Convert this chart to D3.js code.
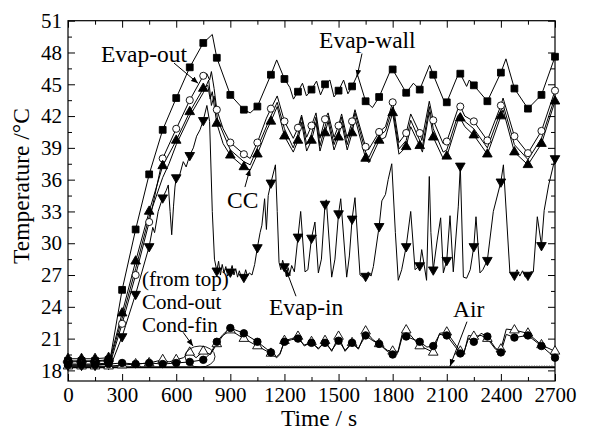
<!DOCTYPE html>
<html lang="en">
<head>
<meta charset="UTF-8">
<title>Temperature vs time</title>
<script src="https://d3js.org/d3.v7.min.js"></script>
<style>
  body { margin: 0; background: #fff; }
  svg text { font-family: "Liberation Serif", "Times New Roman", serif; fill: #000; }
</style>
</head>
<body>
<svg id="chart"></svg>
<script>
// [time s, temperature C]; points at multiples of 75 s carry a marker
const evapWall = [[0,18.9],[75,18.9],[150,18.9],[225,19.0],[235,19.2],[300,25.6],[375,31.3],[450,36.5],[525,40.7],[600,43.7],[675,46.6],[750,48.9],[800,49.7],[825,47.5],[900,44.0],[975,42.6],[1010,42.3],[1050,42.9],[1125,45.9],[1157,47.3],[1200,45.5],[1230,44.7],[1250,43.6],[1275,44.3],[1300,45.1],[1322,43.9],[1350,44.5],[1378,45.3],[1400,44.0],[1425,45.0],[1452,45.4],[1475,43.8],[1500,44.4],[1528,45.4],[1552,44.1],[1575,44.8],[1605,45.9],[1650,43.4],[1688,42.8],[1725,43.8],[1795,46.6],[1800,46.4],[1875,44.2],[1915,45.1],[1950,44.5],[2005,46.8],[2025,45.9],[2090,43.2],[2100,43.3],[2160,45.8],[2175,46.0],[2210,44.8],[2225,45.4],[2250,44.9],[2325,43.4],[2400,46.1],[2428,47.4],[2475,44.6],[2550,42.7],[2625,44.0],[2700,47.6]];

const evapOut = [[0,18.6],[75,18.6],[150,18.6],[225,18.7],[240,19.0],[300,22.4],[375,27.0],[450,32.0],[525,38.0],[600,40.8],[675,43.5],[750,45.8],[770,46.0],[785,45.4],[795,46.2],[810,44.6],[825,42.6],[860,40.8],[900,39.5],[975,38.4],[1010,38.0],[1050,39.5],[1100,41.8],[1125,42.7],[1160,43.9],[1200,41.5],[1249,39.9],[1275,40.9],[1295,42.1],[1323,40.0],[1350,41.1],[1375,42.3],[1397,39.9],[1425,41.7],[1442,42.3],[1475,40.0],[1500,41.1],[1517,42.2],[1548,39.9],[1575,41.5],[1591,42.6],[1650,39.1],[1665,38.8],[1725,40.5],[1760,41.0],[1800,43.3],[1835,39.5],[1875,40.4],[1900,42.2],[1950,40.4],[1962,39.7],[2003,43.4],[2025,41.6],[2080,39.4],[2100,39.6],[2160,42.6],[2175,42.9],[2200,42.0],[2250,41.5],[2325,39.7],[2400,43.0],[2412,43.7],[2475,40.1],[2550,38.5],[2625,40.6],[2700,44.4]];

const ccMid = [[0,18.8],[225,18.9],[240,19.3],[300,22.9],[375,27.6],[450,32.5],[525,36.2],[560,37.5],[600,39.3],[675,42.0],[750,44.2],[780,45.4],[795,43.0],[810,43.9],[830,41.6],[900,38.8],[975,37.7],[1010,37.4],[1050,39.0],[1125,42.0],[1160,43.3],[1200,40.8],[1249,39.0],[1275,40.3],[1295,41.9],[1323,39.3],[1350,40.3],[1375,41.9],[1397,39.2],[1425,41.0],[1442,42.0],[1475,39.3],[1500,40.5],[1517,41.9],[1548,39.3],[1575,41.0],[1591,42.3],[1650,38.6],[1668,38.1],[1725,40.1],[1760,40.6],[1800,42.8],[1835,38.9],[1875,39.7],[1900,41.6],[1950,39.7],[1965,39.1],[2003,42.9],[2025,40.8],[2080,38.6],[2100,38.8],[2160,42.0],[2175,42.3],[2200,41.5],[2250,40.8],[2325,39.0],[2400,42.5],[2412,43.1],[2475,39.3],[2550,37.9],[2625,39.9],[2700,43.8]];

const cc = [[0,19.1],[75,19.1],[150,19.1],[225,19.2],[240,19.5],[300,23.4],[375,28.3],[450,33.0],[525,37.3],[600,39.7],[675,42.4],[750,44.6],[775,44.9],[788,43.6],[800,44.3],[812,42.8],[825,41.3],[860,39.4],[900,38.3],[975,37.2],[1010,36.9],[1050,38.4],[1100,40.6],[1125,41.5],[1160,42.9],[1200,40.1],[1249,38.6],[1275,39.7],[1295,41.4],[1323,38.7],[1350,39.7],[1375,41.4],[1397,38.7],[1425,40.4],[1442,41.5],[1475,38.8],[1500,40.0],[1517,41.4],[1548,38.8],[1575,40.4],[1591,41.8],[1650,38.0],[1668,37.6],[1725,39.7],[1760,40.0],[1800,42.3],[1835,38.4],[1875,39.1],[1900,41.0],[1950,39.2],[1965,38.6],[2003,42.4],[2025,40.0],[2080,38.0],[2100,38.2],[2160,41.5],[2175,41.8],[2200,41.0],[2250,40.2],[2325,38.4],[2400,42.0],[2412,42.6],[2475,38.6],[2550,37.4],[2625,39.4],[2700,43.4]];

const evapIn = [[0,18.5],[75,18.5],[150,18.5],[225,18.6],[245,18.8],[300,21.2],[375,25.2],[450,29.7],[470,31.5],[480,31.0],[500,33.0],[525,34.3],[545,35.0],[556,35.5],[566,33.0],[575,30.8],[585,33.5],[593,35.3],[600,36.2],[620,36.5],[639,37.7],[655,37.2],[675,38.3],[695,39.0],[713,40.1],[732,40.7],[750,41.6],[770,43.0],[785,41.5],[800,33.0],[812,28.5],[825,27.4],[835,28.3],[845,27.0],[855,28.0],[865,27.2],[875,27.8],[885,26.9],[900,27.3],[910,27.9],[920,27.0],[930,27.6],[940,26.8],[950,27.4],[962,26.7],[975,26.8],[985,27.5],[995,26.9],[1005,27.2],[1020,27.0],[1035,28.0],[1050,29.6],[1065,31.0],[1075,31.7],[1090,34.2],[1100,31.3],[1110,34.5],[1125,35.7],[1150,37.4],[1160,33.0],[1170,28.2],[1180,27.5],[1190,28.4],[1200,27.8],[1210,26.9],[1220,27.7],[1230,27.1],[1240,27.9],[1255,27.3],[1275,30.6],[1290,33.0],[1314,27.3],[1330,27.5],[1350,30.5],[1369,32.0],[1388,27.2],[1405,28.5],[1425,33.7],[1432,34.1],[1462,26.8],[1480,28.5],[1500,32.8],[1512,34.2],[1545,26.8],[1560,28.8],[1575,32.3],[1591,34.3],[1619,27.0],[1635,26.8],[1650,26.9],[1665,27.3],[1680,26.9],[1693,27.8],[1725,31.6],[1740,34.0],[1760,34.6],[1775,36.0],[1795,37.5],[1815,31.0],[1831,26.5],[1850,27.5],[1875,29.7],[1900,33.0],[1924,27.5],[1950,27.9],[1961,29.4],[1988,26.5],[2003,36.3],[2012,31.0],[2025,27.5],[2047,30.3],[2066,32.4],[2081,27.2],[2100,28.4],[2118,32.6],[2136,27.3],[2164,33.5],[2175,37.3],[2192,26.8],[2210,26.7],[2230,27.5],[2250,29.7],[2262,32.5],[2284,27.2],[2300,27.5],[2325,28.4],[2358,33.0],[2400,35.8],[2414,37.4],[2450,27.2],[2465,26.9],[2475,27.0],[2490,27.5],[2505,26.9],[2520,27.4],[2535,26.8],[2550,27.0],[2565,27.3],[2580,27.3],[2602,32.5],[2625,29.8],[2640,33.1],[2665,35.5],[2700,38.0]];

const condOut = [[0,18.5],[75,18.5],[150,18.5],[225,18.6],[300,18.7],[375,18.6],[450,18.7],[525,18.6],[600,18.7],[675,18.8],[750,19.0],[790,19.6],[825,20.7],[860,21.4],[900,22.0],[975,21.5],[1050,20.7],[1125,19.7],[1157,19.3],[1175,19.6],[1200,20.7],[1240,20.9],[1275,21.0],[1310,20.4],[1350,20.6],[1388,20.1],[1425,20.6],[1462,19.9],[1500,20.8],[1536,19.9],[1575,20.6],[1610,20.1],[1650,21.3],[1690,20.8],[1725,20.5],[1770,19.8],[1800,19.5],[1830,19.7],[1855,21.3],[1875,21.2],[1950,20.7],[1990,20.2],[2025,20.3],[2060,21.4],[2100,21.3],[2175,19.6],[2195,19.7],[2220,21.0],[2250,20.7],[2290,21.5],[2325,21.2],[2370,20.1],[2400,19.7],[2430,21.4],[2475,21.1],[2550,21.3],[2625,20.3],[2700,19.2]];

const condFin = [[0,18.4],[75,18.4],[150,18.4],[225,18.4],[300,18.5],[375,18.6],[450,18.7],[525,19.0],[560,18.8],[600,19.0],[640,19.2],[675,19.7],[710,19.2],[750,19.8],[790,19.5],[825,20.5],[860,21.3],[900,21.8],[975,21.0],[1050,20.3],[1125,19.6],[1157,19.2],[1175,19.5],[1200,20.8],[1240,21.0],[1275,21.2],[1310,20.3],[1350,20.7],[1388,20.0],[1425,20.8],[1462,19.8],[1500,21.2],[1536,19.8],[1575,20.6],[1610,20.0],[1650,21.7],[1690,20.9],[1725,20.5],[1770,19.9],[1800,19.8],[1830,19.8],[1855,21.6],[1875,21.8],[1950,20.3],[1990,20.0],[2025,19.7],[2060,21.5],[2100,21.6],[2175,19.8],[2195,19.6],[2220,21.3],[2250,21.2],[2290,21.3],[2325,21.0],[2370,20.0],[2400,20.0],[2430,21.9],[2475,21.8],[2550,21.5],[2625,20.4],[2700,19.8]];

const air = [[0,18.3],[2700,18.3]];
const airTrace = [[1100,18.42],[2700,18.45]];

const xTicks = [0, 300, 600, 900, 1200, 1500, 1800, 2100, 2400, 2700];
const yTicks = [18, 21, 24, 27, 30, 33, 36, 39, 42, 45, 48, 51];

const width = 591, height = 437;
const x = d3.scaleLinear().domain([0, 2700]).range([68, 555]);
const y = d3.scaleLinear().domain([17, 51]).range([381, 20.7]);

const svg = d3.select("#chart").attr("width", width).attr("height", height);

// arrowhead
svg.append("defs").append("marker")
    .attr("id", "arrow")
    .attr("viewBox", "0 0 10 10")
    .attr("refX", 10).attr("refY", 5)
    .attr("markerWidth", 7).attr("markerHeight", 7)
    .attr("markerUnits", "userSpaceOnUse")
    .attr("orient", "auto")
    .append("path").attr("d", "M0,1 L10,5 L0,9 Z").attr("fill", "#000");

// axes (ticks point inward on all four sides)
const minorX = d3.range(150, 2700, 300);
const minorY = d3.range(19.5, 51, 3);

svg.append("g").attr("transform", "translate(0,381)")
    .call(d3.axisBottom(x).tickValues(xTicks).tickFormat(d3.format("d"))
        .tickSizeInner(-7).tickSizeOuter(0).tickPadding(6))
    .call(g => g.select(".domain").remove())
    .call(g => g.selectAll("text").attr("font-size", 21));
svg.append("g").attr("transform", "translate(0,381)")
    .call(d3.axisBottom(x).tickValues(minorX).tickSize(-4).tickFormat(""))
    .call(g => g.select(".domain").remove());
svg.append("g").attr("transform", "translate(0,20.7)")
    .call(d3.axisTop(x).tickValues(xTicks).tickSize(-7).tickFormat(""))
    .call(g => g.select(".domain").remove());
svg.append("g").attr("transform", "translate(0,20.7)")
    .call(d3.axisTop(x).tickValues(minorX).tickSize(-4).tickFormat(""))
    .call(g => g.select(".domain").remove());

svg.append("g").attr("transform", "translate(68,0)")
    .call(d3.axisLeft(y).tickValues(yTicks).tickSizeInner(-7).tickSizeOuter(0).tickPadding(6))
    .call(g => g.select(".domain").remove())
    .call(g => g.selectAll("text").attr("font-size", 21));
svg.append("g").attr("transform", "translate(68,0)")
    .call(d3.axisLeft(y).tickValues(minorY).tickSize(-4).tickFormat(""))
    .call(g => g.select(".domain").remove());
svg.append("g").attr("transform", "translate(555,0)")
    .call(d3.axisRight(y).tickValues(yTicks).tickSize(-7).tickFormat(""))
    .call(g => g.select(".domain").remove());
svg.append("g").attr("transform", "translate(555,0)")
    .call(d3.axisRight(y).tickValues(minorY).tickSize(-4).tickFormat(""))
    .call(g => g.select(".domain").remove());

svg.selectAll(".tick line").attr("stroke", "#000");

svg.append("rect")
    .attr("x", 68).attr("y", 20.7)
    .attr("width", 555 - 68).attr("height", 381 - 20.7)
    .attr("fill", "none").attr("stroke", "#000").attr("stroke-width", 1.2);

// axis titles
svg.append("text")
    .attr("x", 319).attr("y", 426)
    .attr("text-anchor", "middle").attr("font-size", 23.5)
    .text("Time / s");
svg.append("text")
    .attr("transform", "translate(29,186) rotate(-90)")
    .attr("text-anchor", "middle").attr("font-size", 23.5)
    .text("Temperature /°C");

// lines
const line = d3.line().x(d => x(d[0])).y(d => y(d[1]));
const plot = svg.append("g");

plot.append("path").datum(air).attr("d", line)
    .attr("fill", "none").attr("stroke", "#000").attr("stroke-width", 2);
plot.append("path").datum(airTrace).attr("d", line)
    .attr("fill", "none").attr("stroke", "#888").attr("stroke-width", 0.8)
    .attr("stroke-dasharray", "1,1.5");

const series = [
    {data: evapWall, shape: d3.symbolSquare, size: 46, fill: "#000"},
    {data: evapOut, shape: d3.symbolCircle, size: 40, fill: "#fff"},
    {data: ccMid, shape: null},
    {data: cc, shape: d3.symbolTriangle, size: 40, fill: "#000"},
    {data: evapIn, shape: d3.symbolTriangle, size: 40, fill: "#000", flip: true},
    {data: condFin, shape: d3.symbolTriangle, size: 40, fill: "#fff"},
    {data: condOut, shape: d3.symbolCircle, size: 44, fill: "#000"}
];

series.forEach(s => {
    plot.append("path").datum(s.data).attr("d", line)
        .attr("fill", "none").attr("stroke", "#000").attr("stroke-width", 1)
        .attr("stroke-linejoin", "round");
});

series.filter(s => s.shape).forEach(s => {
    plot.selectAll(null)
        .data(s.data.filter(d => d[0] % 75 === 0))
        .enter().append("path")
        .attr("d", d3.symbol().type(s.shape).size(s.size))
        .attr("transform", d => `translate(${x(d[0])},${y(d[1])})` + (s.flip ? " rotate(180)" : ""))
        .attr("fill", s.fill).attr("stroke", "#000").attr("stroke-width", 0.9);
});

// annotations
const labels = [
    {text: "Evap-out", t: 183, v: 47.1},
    {text: "Evap-wall", t: 1392, v: 48.4},
    {text: "CC", t: 882, v: 33.3},
    {text: "Evap-in", t: 1114, v: 23.2},
    {text: "Air", t: 2134, v: 23.0}
];
svg.selectAll(".lbl").data(labels).enter().append("text")
    .attr("class", "lbl")
    .attr("x", d => x(d.t)).attr("y", d => y(d.v))
    .attr("font-size", 23.5)
    .text(d => d.text);

// stacked three-line label
const stackLines = ["(from top)", "Cond-out", "Cond-fin"];
svg.selectAll(".stack").data(stackLines).enter().append("text")
    .attr("class", "stack")
    .attr("x", x(410))
    .attr("y", (d, i) => y(26.0) + i * 23.3)
    .attr("font-size", 21)
    .text(d => d);

const arrows = [
    [[588, 47.0], [721, 45.1]],
    [[1630, 47.9], [1602, 45.7]],
    [[981, 35.3], [1009, 37.0]],
    [[638, 21.6], [693, 20.3]],
    [[1264, 25.0], [1209, 27.5]],
    [[2212, 22.6], [2118, 18.4]]
];
svg.selectAll(".arr").data(arrows).enter().append("line")
    .attr("class", "arr")
    .attr("x1", d => x(d[0][0])).attr("y1", d => y(d[0][1]))
    .attr("x2", d => x(d[1][0])).attr("y2", d => y(d[1][1]))
    .attr("stroke", "#000").attr("stroke-width", 1)
    .attr("marker-end", "url(#arrow)");

// ellipse around the Cond-out / Cond-fin start
svg.append("ellipse")
    .attr("cx", x(732)).attr("cy", y(19.3))
    .attr("rx", x(815) - x(732)).attr("ry", y(18.3) - y(19.3))
    .attr("fill", "none").attr("stroke", "#000").attr("stroke-width", 0.9);
</script>
</body>
</html>
